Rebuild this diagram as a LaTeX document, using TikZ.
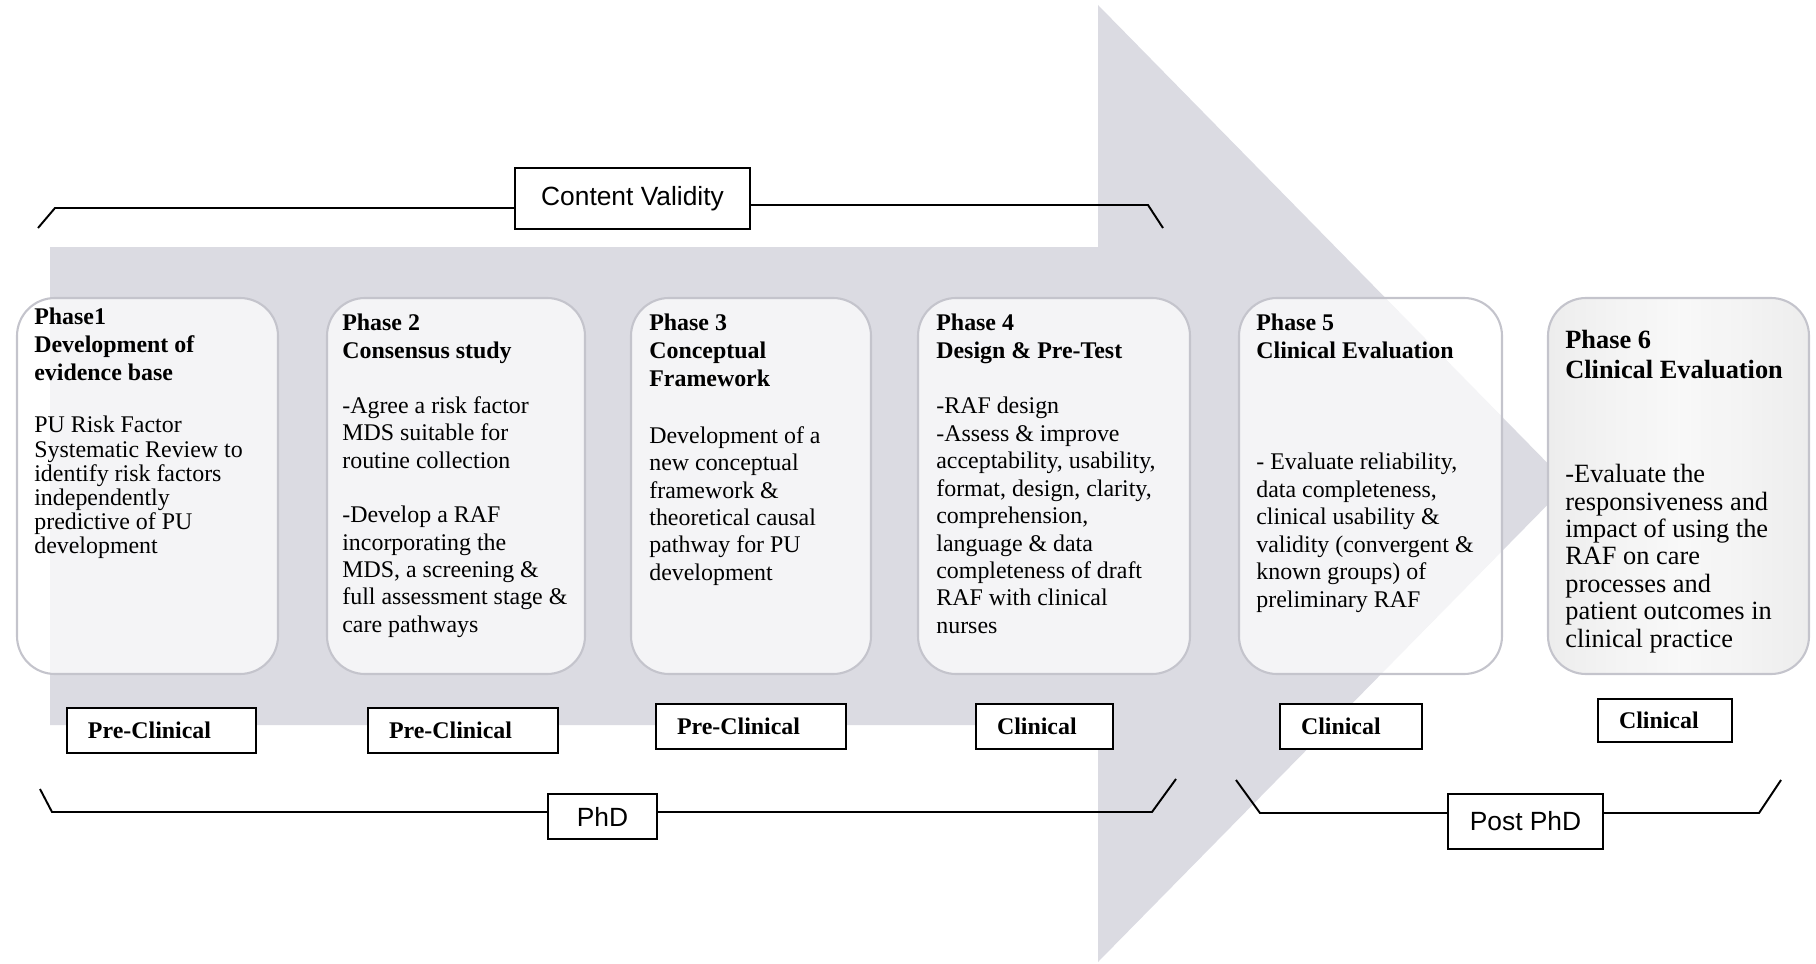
\documentclass[tikz,border=0pt]{standalone}
\usepackage{fontspec}
\setmainfont{Liberation Serif}
\setsansfont{Liberation Sans}
\definecolor{arrowgray}{RGB}{219,219,226}
\definecolor{boxedge}{RGB}{196,196,204}

\begin{document}
\begin{tikzpicture}[x=0.2mm,y=-0.2mm,
  phase box/.style={rounded corners=7.6mm,draw=boxedge,line width=1.2pt,fill=white,
    fill opacity=0.7,minimum height=75.2mm},
  phase title/.style={anchor=north west,align=left,inner sep=0pt,
    font=\fontsize{13.6}{15.7}\selectfont\bfseries},
  phase text/.style={anchor=north west,align=left,inner sep=0pt,
    font=\fontsize{13.6}{15.6}\selectfont},
  stage box/.style={draw,fill=white,line width=0.8pt,inner xsep=4.2mm,inner ysep=0pt,
    minimum height=9mm,align=left,font=\fontsize{13.6}{16}\selectfont\bfseries},
  period box/.style={draw,fill=white,line width=0.8pt,font=\sffamily\fontsize{15}{18}\selectfont},
  bracket/.style={line width=1.1pt}]

  \useasboundingbox (0,0) rectangle (1816,964);

  % big arrow
  \fill[arrowgray] (50,247) -- (1098,247) -- (1098,5) -- (1568,484) -- (1098,962)
    -- (1098,725) -- (50,725) -- cycle;

  % brackets
  \node[period box,minimum width=47mm,minimum height=12.2mm] (cv) at (632.5,198.5) {Content Validity};
  \node[period box,minimum width=21.8mm,minimum height=9mm] (phd) at (602.5,816.5) {PhD};
  \node[period box,minimum width=31mm,minimum height=11mm] (pphd) at (1525.5,821.5) {Post PhD};

  \coordinate (cvl1) at (38,228);
  \coordinate (cvl2) at (55,208);
  \coordinate (cvr1) at (1148,205);
  \coordinate (cvr2) at (1163,228);
  \coordinate (phl1) at (40,789);
  \coordinate (phl2) at (52,812);
  \coordinate (phr1) at (1152,812);
  \coordinate (phr2) at (1176,779);
  \coordinate (ppl1) at (1236,780);
  \coordinate (ppl2) at (1260,813);
  \coordinate (ppr1) at (1759,813);
  \coordinate (ppr2) at (1781,780);

  \draw[bracket] (cvl1) -- (cvl2) -- (cvl2 -| cv.west);
  \draw[bracket] (cv.east |- cvr1) -- (cvr1) -- (cvr2);
  \draw[bracket] (phl1) -- (phl2) -- (phl2 -| phd.west);
  \draw[bracket] (phd.east |- phr1) -- (phr1) -- (phr2);
  \draw[bracket] (ppl1) -- (ppl2) -- (ppl2 -| pphd.west);
  \draw[bracket] (pphd.east |- ppr1) -- (ppr1) -- (ppr2);

  % phases
  \node[phase box,minimum width=52.2mm] (p1) at (147.5,486) {};
  \node[phase box,minimum width=51.6mm] (p2) at (456,486) {};
  \node[phase box,minimum width=48mm] (p3) at (751,486) {};
  \node[phase box,minimum width=54.4mm] (p4) at (1054,486) {};
  \node[phase box,minimum width=52.6mm] (p5) at (1370.5,486) {};
  \node[phase box,minimum width=52.2mm,fill opacity=0.9,left color=gray!15,
    right color=gray!15,middle color=gray!5] (p6) at (1678.5,486) {};

  \node[phase title] (t1) at (34,308) {Phase1\\Development of\\evidence base};
  \node[phase text,font=\fontsize{13.6}{13.7}\selectfont] (b1) at (34,416)
    {PU Risk Factor\\Systematic Review to\\identify risk factors\\independently\\predictive of PU\\development};

  \node[phase title] (t2) at (342,314) {Phase 2\\Consensus study};
  \node[phase text] (b2) at (342,396)
    {-Agree a risk factor\\MDS suitable for\\routine collection\\[15.5pt]-Develop a RAF\\incorporating the\\MDS, a screening \&\\full assessment stage \&\\care pathways};

  \node[phase title] (t3) at (649,314) {Phase 3\\Conceptual\\Framework};
  \node[phase text] (b3) at (649,426)
    {Development of a\\new conceptual\\framework \&\\theoretical causal\\pathway for PU\\development};

  \node[phase title] (t4) at (936,314) {Phase 4\\Design \& Pre-Test};
  \node[phase text] (b4) at (936,397)
    {-RAF design\\-Assess \& improve\\acceptability, usability,\\format, design, clarity,\\comprehension,\\language \& data\\completeness of draft\\RAF with clinical\\nurses};

  \node[phase title] (t5) at (1256,314) {Phase 5\\Clinical Evaluation};
  \node[phase text] (b5) at (1256,453)
    {- Evaluate reliability,\\data completeness,\\clinical usability \&\\validity (convergent \&\\known groups) of\\preliminary RAF};

  \node[phase title,font=\fontsize{15}{17}\selectfont\bfseries] (t6) at (1565,330) {Phase 6\\Clinical Evaluation};
  \node[phase text,font=\fontsize{15}{15.6}\selectfont] (b6) at (1565,464)
    {-Evaluate the\\responsiveness and\\impact of using the\\RAF on care\\processes and\\patient outcomes in\\clinical practice};

  % stages
  \node[stage box,text width=29.4mm] (s1) at (161.5,730.5) {Pre-Clinical};
  \node[stage box,text width=29.6mm] (s2) at (463,730.5) {Pre-Clinical};
  \node[stage box,text width=29.6mm] (s3) at (751,726.5) {Pre-Clinical};
  \node[stage box,text width=19mm] (s4) at (1044.5,726.5) {Clinical};
  \node[stage box,text width=20mm] (s5) at (1351,726.5) {Clinical};
  \node[stage box,text width=18.4mm,minimum height=8.6mm] (s6) at (1665,720.5) {Clinical};
\end{tikzpicture}
\end{document}
